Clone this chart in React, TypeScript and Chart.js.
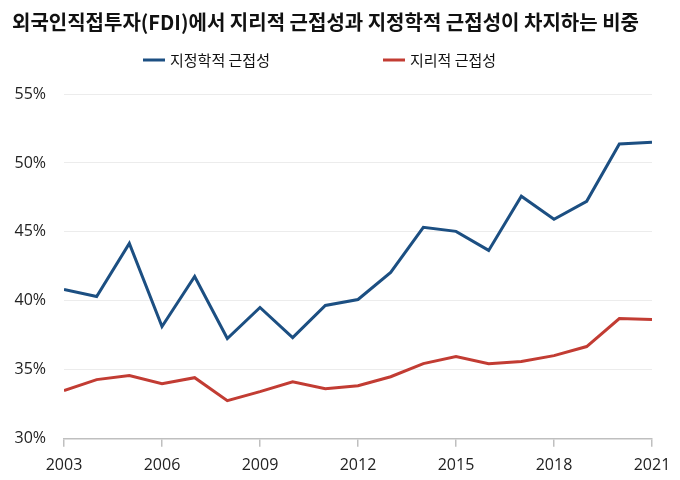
import React, { useEffect, useRef } from "react";
import { Chart, registerables } from "chart.js";

Chart.register(...registerables);

const TITLE = "외국인직접투자(FDI)에서 지리적 근접성과 지정학적 근접성이 차지하는 비중";
const years = [2003, 2004, 2005, 2006, 2007, 2008, 2009, 2010, 2011, 2012, 2013, 2014, 2015, 2016, 2017, 2018, 2019, 2020, 2021];
const geopoliticalName = "지정학적 근접성";
const geographicName = "지리적 근접성";
const geopolitical = [40.83, 40.32, 44.17, 38.14, 41.77, 37.27, 39.52, 37.34, 39.67, 40.1, 42.06, 45.33, 45.04, 43.66, 47.59, 45.92, 47.22, 51.37, 51.51];
const geographic = [33.49, 34.29, 34.58, 34.0, 34.43, 32.76, 33.42, 34.14, 33.63, 33.85, 34.5, 35.45, 35.96, 35.45, 35.6, 36.03, 36.69, 38.72, 38.65];
const yTicks = [30, 35, 40, 45, 50, 55];

const BLUE = "#1c4f82";
const RED = "#c23c33";
const FONT = "'Noto Sans CJK KR', 'Noto Sans', sans-serif";
const NUMFONT = "'Open Sans', 'Noto Sans', sans-serif";

const headerPlugin = {
  id: "header",
  afterDraw(chart: any) {
    const ctx = chart.ctx;
    ctx.save();
    ctx.fillStyle = "#111";
    ctx.font = `bold 20px ${FONT}`;
    ctx.textBaseline = "middle";
    ctx.textAlign = "left";
    ctx.fillText(TITLE, 12, 22);
    ctx.font = `15px ${FONT}`;
    const items = [
      { x: 143, color: BLUE, text: geopoliticalName },
      { x: 383, color: RED, text: geographicName },
    ];
    for (const it of items) {
      ctx.strokeStyle = it.color;
      ctx.lineWidth = 3;
      ctx.beginPath();
      ctx.moveTo(it.x, 60);
      ctx.lineTo(it.x + 22, 60);
      ctx.stroke();
      ctx.fillStyle = "#111";
      ctx.fillText(it.text, it.x + 27, 60);
    }
    ctx.restore();
  },
};

export default function App() {
  const ref = useRef<HTMLCanvasElement>(null);
  useEffect(() => {
    document.body.style.margin = "0";
    const chart = new Chart(ref.current!, {
      type: "line",
      data: {
        datasets: [
          {
            label: geopoliticalName,
            data: years.map((y, i) => ({ x: y, y: geopolitical[i] })),
            borderColor: BLUE,
            backgroundColor: BLUE,
            borderWidth: 3,
            pointRadius: 0,
            tension: 0,
          },
          {
            label: geographicName,
            data: years.map((y, i) => ({ x: y, y: geographic[i] })),
            borderColor: RED,
            backgroundColor: RED,
            borderWidth: 3,
            pointRadius: 0,
            tension: 0,
          },
        ],
      },
      options: {
        animation: false,
        responsive: true,
        maintainAspectRatio: false,
        layout: { padding: { top: 94, left: 10, right: 28, bottom: -4 } },
        plugins: { legend: { display: false }, title: { display: false }, tooltip: { enabled: false } },
        scales: {
          x: {
            type: "linear",
            min: 2003,
            max: 2021,
            ticks: {
              stepSize: 3,
              color: "#222",
              font: { family: NUMFONT, size: 16 },
              padding: 9,
              maxRotation: 0,
              callback: (v: any) => String(v),
            },
            grid: { drawOnChartArea: false, drawTicks: true, tickLength: 8, color: "#bfbfbf", lineWidth: 1.5 },
            border: { display: true, color: "#bfbfbf", width: 1.5 },
          },
          y: {
            min: yTicks[0],
            max: yTicks[yTicks.length - 1],
            afterBuildTicks: (axis: any) => {
              axis.ticks = yTicks.map((v) => ({ value: v }));
            },
            afterFit: (axis: any) => {
              axis.width = 54;
            },
            ticks: {
              color: "#222",
              font: { family: NUMFONT, size: 16 },
              padding: 18,
              callback: (v: any) => v + "%",
            },
            grid: { drawTicks: false, color: "#ececec", lineWidth: 1 },
            border: { display: false },
          },
        },
      },
      plugins: [headerPlugin],
    } as any);
    return () => chart.destroy();
  }, []);
  return (
    <div style={{ width: 680, height: 480, position: "relative" }}>
      <canvas ref={ref} />
    </div>
  );
}
